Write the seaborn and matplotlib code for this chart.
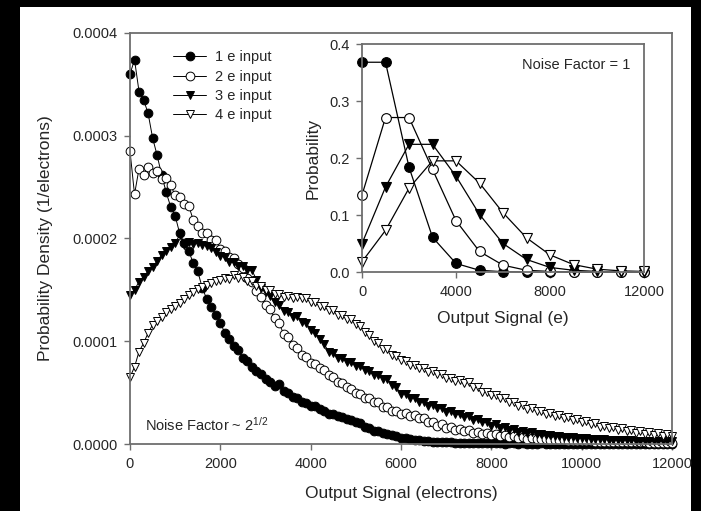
import numpy as np
import pandas as pd
import matplotlib
matplotlib.use('Agg')
import matplotlib.pyplot as plt
from matplotlib.patches import Rectangle
import seaborn as sns

# 信号轴 (electrons), 每 100 e 一个点
signal = list(range(0, 12001, 100))

# 主图数据, 单位 1e-6 /electron
one_e = [360, 374, 343, 335, 322, 298, 281, 262, 245, 231,
         222, 205, 196, 188, 176, 168, 152, 141, 133, 126,
         118, 108, 102, 95, 91, 84, 81, 75, 71, 68,
         63, 60, 56, 58, 52, 50, 46, 45, 41, 40,
         37, 37, 34, 32, 29, 29, 27, 26, 24, 23,
         21, 20, 17, 16, 13, 13, 11, 10, 9, 8,
         6, 6, 5, 4, 4, 3, 3, 2, 2, 2,
         1.5, 1.5, 1, 1, 1, 1, 1, 1, 0.5, 0.5,
         0.5, 0.8, 0.5, 0.3, 0.5, 0.5, 0.3, 0.5, 0.3, 0.3,
         0.3, 0.5, 0.3, 0.3, 0.2, 0.3, 0.2, 0.3, 0.2, 0.2,
         0.2, 0.3, 0.2, 0.2, 0.1, 0.2, 0.1, 0.2, 0.1, 0.1,
         0.1, 0.2, 0.1, 0.1, 0.1, 0.1, 0.1, 0.1, 0.1, 0.1,
         0.1]
two_e = [285, 243, 268, 262, 270, 264, 266, 258, 259, 252,
         242, 240, 234, 232, 218, 212, 205, 205, 199, 199,
         190, 188, 182, 181, 175, 171, 162, 158, 149, 143,
         135, 131, 123, 118, 107, 104, 96, 93, 87, 85,
         79, 78, 74, 72, 67, 65, 60, 59, 55, 54,
         50, 49, 45, 45, 41, 41, 36, 36, 32, 32,
         29, 30, 27, 28, 25, 25, 21, 21, 18, 19,
         16, 17, 14, 15, 13, 14, 11, 12, 10, 11,
         9, 10, 8, 9, 7, 8, 6, 7, 5, 6,
         5, 5, 5, 4, 4, 4, 4, 3, 3, 3,
         3, 3, 3, 2, 2, 2, 2, 2, 2, 2,
         2, 1.5, 1.5, 1.5, 1.5, 1, 1, 1, 1, 1,
         1]
three_e = [145, 150, 158, 163, 168, 172, 178, 184, 188, 192,
           196, 203, 194, 197, 195, 196, 194, 193, 191, 187,
           183, 182, 177, 177, 173, 173, 169, 169, 160, 152,
           148, 144, 138, 135, 129, 128, 124, 125, 119, 118,
           111, 108, 102, 97, 90, 89, 84, 84, 80, 80,
           76, 76, 72, 71, 67, 67, 63, 63, 57, 55,
           49, 49, 45, 45, 41, 41, 37, 38, 35, 35,
           31, 32, 29, 29, 26, 27, 23, 24, 21, 21,
           18, 19, 16, 17, 14, 15, 12, 13, 11, 12,
           10, 10, 9, 9, 8, 8, 7, 7, 7, 6,
           6, 6, 5, 5, 5, 5, 4, 4, 4, 4,
           4, 4, 3, 3, 3, 3, 3, 3, 3, 3,
           3]
four_e = [65, 75, 90, 98, 108, 116, 120, 124, 128, 131,
          134, 137, 141, 145, 148, 151, 153, 155, 157, 159,
          160, 162, 161, 164, 162, 163, 159, 159, 154, 154,
          150, 150, 146, 146, 143, 144, 142, 143, 142, 142,
          138, 138, 134, 134, 130, 130, 126, 126, 122, 122,
          117, 115, 109, 106, 100, 98, 92, 92, 87, 86,
          82, 81, 77, 77, 74, 74, 70, 71, 68, 68,
          64, 64, 61, 62, 59, 60, 55, 55, 51, 51,
          48, 48, 45, 45, 41, 41, 37, 38, 34, 35,
          32, 32, 29, 30, 27, 28, 25, 26, 23, 24,
          21, 22, 19, 20, 17, 18, 16, 17, 14, 16,
          13, 14, 11, 13, 10, 12, 9, 11, 8, 10,
          8]

# 插图数据 (Noise Factor = 1)
inset_signal = list(range(0, 12001, 1000))
inset_1e = [0.368, 0.368, 0.184, 0.061, 0.015, 0.003, 0.0005, 0, 0, 0, 0, 0, 0]
inset_2e = [0.135, 0.271, 0.271, 0.180, 0.090, 0.036, 0.012, 0.003, 0.001, 0, 0, 0, 0]
inset_3e = [0.050, 0.149, 0.224, 0.224, 0.168, 0.101, 0.050, 0.022, 0.008, 0.003, 0.001, 0, 0]
inset_4e = [0.018, 0.073, 0.147, 0.195, 0.195, 0.156, 0.104, 0.060, 0.030, 0.013, 0.005, 0.002, 0.001]

labels = ['1 e input', '2 e input', '3 e input', '4 e input']
markers = ['o', 'o', 'v', 'v']
faces = ['black', 'white', 'black', 'white']

sns.set_style('ticks')
plt.rcParams['font.family'] = ['Liberation Sans', 'DejaVu Sans']
plt.rcParams['mathtext.fontset'] = 'custom'
plt.rcParams['mathtext.rm'] = 'Liberation Sans'
plt.rcParams['mathtext.it'] = 'Liberation Sans:italic'

spine_c = '#6e6e6e'
text_c = '#262626'

fig = plt.figure(figsize=(7.01, 5.11), dpi=100, facecolor='black')
fig.patches.append(Rectangle((20 / 701, 0), (691 - 20) / 701, (511 - 7) / 511,
                             transform=fig.transFigure, facecolor='white',
                             edgecolor='none', zorder=-10))

ax = fig.add_axes([130 / 701, 67 / 511, 542 / 701, 411 / 511])
ax.set_facecolor('white')

main_df = pd.DataFrame({'signal': signal})
for lab, vals in zip(labels, [one_e, two_e, three_e, four_e]):
    main_df[lab] = np.array(vals) * 1e-6

for lab, m, fc in zip(labels, markers, faces):
    sns.lineplot(data=main_df, x='signal', y=lab, ax=ax, color='black',
                 marker=m, markersize=6.3, markerfacecolor=fc,
                 markeredgecolor='black', markeredgewidth=0.7,
                 linewidth=0.7, label=lab, clip_on=False)

ax.set_xlim(0, 12000)
ax.set_ylim(0, 0.0004)
ax.set_xticks(range(0, 12001, 2000))
ax.set_yticks([0, 0.0001, 0.0002, 0.0003, 0.0004])
ax.set_yticklabels(['0.0000', '0.0001', '0.0002', '0.0003', '0.0004'])
ax.set_xlabel('Output Signal (electrons)', fontsize=12.5, color=text_c, labelpad=11)
ax.set_ylabel('Probability Density (1/electrons)', fontsize=12.5, color=text_c, labelpad=14)
ax.tick_params(direction='out', length=4, width=1, color=spine_c,
               labelsize=10.5, labelcolor=text_c, pad=5)
for s in ax.spines.values():
    s.set_visible(True)
    s.set_color(spine_c)
    s.set_linewidth(1.3)

ax.legend(loc='upper left', bbox_to_anchor=(0.055, 0.99), frameon=False,
          fontsize=10.5, handlelength=2.3, labelspacing=0.37, handletextpad=0.6,
          labelcolor=text_c)
ax.text(0.028, 0.025, 'Noise Factor ~ 2$^{1/2}$', transform=ax.transAxes,
        fontsize=10.5, color=text_c, ha='left', va='bottom')

# 插图
ins = fig.add_axes([362 / 701, 239 / 511, 282 / 701, 228 / 511])
ins.set_facecolor('white')
inset_df = pd.DataFrame({'signal': inset_signal})
for lab, vals in zip(labels, [inset_1e, inset_2e, inset_3e, inset_4e]):
    inset_df[lab] = vals

for lab, m, fc in zip(labels, markers, faces):
    sns.lineplot(data=inset_df, x='signal', y=lab, ax=ins, color='black',
                 marker=m, markersize=7, markerfacecolor=fc,
                 markeredgecolor='black', markeredgewidth=0.8,
                 linewidth=0.9, clip_on=False)

ins.set_xlim(0, 12000)
ins.set_ylim(0, 0.4)
ins.set_xticks([0, 4000, 8000, 12000])
ins.set_yticks([0, 0.1, 0.2, 0.3, 0.4])
ins.set_yticklabels(['0.0', '0.1', '0.2', '0.3', '0.4'])
ins.set_xlabel('Output Signal (e)', fontsize=12.5, color=text_c, labelpad=9)
ins.set_ylabel('Probability', fontsize=12.5, color=text_c, labelpad=6)
ins.tick_params(direction='out', length=4, width=1, color=spine_c,
                labelsize=10.5, labelcolor=text_c, pad=5)
for s in ins.spines.values():
    s.set_visible(True)
    s.set_color(spine_c)
    s.set_linewidth(1.3)
ins.text(0.95, 0.91, 'Noise Factor = 1', transform=ins.transAxes,
         fontsize=10.5, color=text_c, ha='right', va='center')

fig.savefig('out.png', dpi=100, facecolor=fig.get_facecolor())
